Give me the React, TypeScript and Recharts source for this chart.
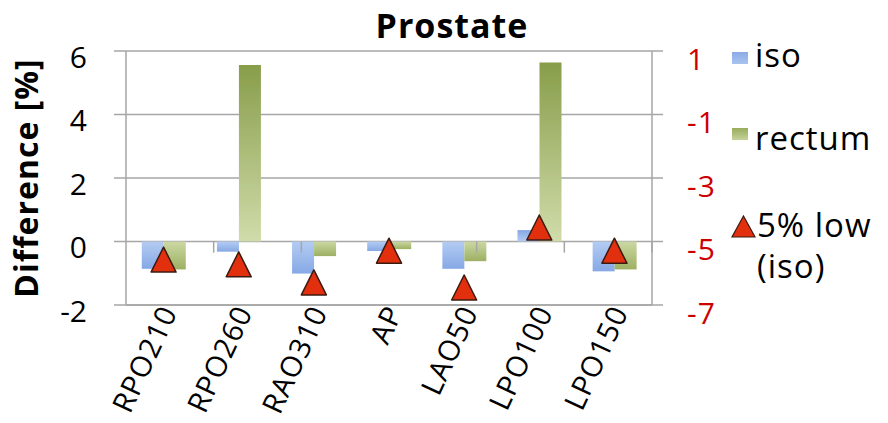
import { ComposedChart, Bar, Line, XAxis, YAxis, CartesianGrid, Cell, ReferenceLine } from 'recharts';

const categories = ['RPO210', 'RPO260', 'RAO310', 'AP', 'LAO50', 'LPO100', 'LPO150'];
const isoValues = [-0.86, -0.32, -1.01, -0.3, -0.86, 0.36, -0.94];
const rectumValues = [-0.88, 5.56, -0.46, -0.24, -0.62, 5.64, -0.88];
const lowIsoValues = [-5.57, -5.72, -6.29, -5.29, -6.45, -4.56, -5.29];

const leftTicks = [-2, 0, 2, 4, 6];
const rightTicks = [-7, -5, -3, -1, 1];

const FONT = "'Open Sans', sans-serif";
const GRID = '#a6a6a6';
const RED_TEXT = '#cc0000';

const data = categories.map((name, i) => ({
  name,
  iso: isoValues[i],
  rectum: rectumValues[i],
  low: lowIsoValues[i],
}));

// category boundaries, used for the small tick marks hanging off the zero line
const boundaries = categories.slice(1).map((_c, i) => i + 1);

function LeftTick({ x, y, payload }: any) {
  return (
    <text x={x} y={y} dy={5} textAnchor="end" dominantBaseline="central" fontFamily={FONT} fontSize={30} fill="#000">
      {payload.value}
    </text>
  );
}

function RightTick({ x, y, payload }: any) {
  return (
    <text x={x} y={y} dy={7} textAnchor="start" dominantBaseline="central" fontFamily={FONT} fontSize={30} fill={RED_TEXT} letterSpacing={1}>
      {payload.value}
    </text>
  );
}

function CategoryTick({ x, y, payload }: any) {
  return (
    <g transform={`translate(${x + 4},${y + 2}) rotate(-65)`}>
      <text x={0} y={0} textAnchor="end" dominantBaseline="central" fontFamily={FONT} fontSize={29} fill="#000" letterSpacing={1}>
        {payload.value}
      </text>
    </g>
  );
}

function Triangle({ cx, cy, index }: any) {
  if (cx == null || cy == null) return <g key={`t-${index}`} />;
  const h = 12.5;
  return (
    <polygon
      key={`t-${index}`}
      points={`${cx},${cy - h} ${cx + h},${cy + h} ${cx - h},${cy + h}`}
      fill="#e2300e"
      stroke="#3b1a10"
      strokeWidth={1.5}
      strokeLinejoin="round"
    />
  );
}

export default function App() {
  return (
    <div style={{ position: 'absolute', left: 0, top: 0, width: 888, height: 423, background: '#fff' }}>
      <ComposedChart
        width={888}
        height={423}
        data={data}
        margin={{ top: 51, right: 156, bottom: 18, left: 0 }}
        barCategoryGap="21%"
        barGap={0}
      >
        <defs>
          <linearGradient id="isoNeg" x1="0" y1="0" x2="0" y2="1">
            <stop offset="0%" stopColor="#b4ccf3" />
            <stop offset="100%" stopColor="#86a8e5" />
          </linearGradient>
          <linearGradient id="isoPos" x1="0" y1="0" x2="0" y2="1">
            <stop offset="0%" stopColor="#86a8e5" />
            <stop offset="100%" stopColor="#b4ccf3" />
          </linearGradient>
          <linearGradient id="recPos" x1="0" y1="0" x2="0" y2="1">
            <stop offset="0%" stopColor="#889d4a" />
            <stop offset="100%" stopColor="#d0dcaa" />
          </linearGradient>
          <linearGradient id="recNeg" x1="0" y1="0" x2="0" y2="1">
            <stop offset="0%" stopColor="#cbd8a3" />
            <stop offset="100%" stopColor="#9db062" />
          </linearGradient>
        </defs>
        <CartesianGrid vertical={false} stroke={GRID} strokeWidth={1.5} />
        <XAxis
          dataKey="name"
          axisLine={{ stroke: GRID, strokeWidth: 1.5 }}
          tickLine={false}
          tickSize={0}
          tickMargin={0}
          height={100}
          interval={0}
          tick={<CategoryTick />}
        />
        <XAxis xAxisId="num" type="number" domain={[0, categories.length]} hide />
        <YAxis
          domain={[-2, 6]}
          ticks={leftTicks}
          width={126}
          tickSize={12}
          tickMargin={27}
          axisLine={{ stroke: GRID, strokeWidth: 1.5 }}
          tickLine={{ stroke: GRID, strokeWidth: 1.5 }}
          tick={<LeftTick />}
          interval={0}
        />
        <YAxis
          yAxisId="right"
          orientation="right"
          domain={[-7, 1]}
          ticks={rightTicks}
          width={80}
          tickSize={11}
          tickMargin={24}
          axisLine={{ stroke: GRID, strokeWidth: 1.5 }}
          tickLine={{ stroke: GRID, strokeWidth: 1.5 }}
          tick={<RightTick />}
          interval={0}
        />
        {boundaries.map((b) => (
          <ReferenceLine
            key={`b-${b}`}
            xAxisId="num"
            segment={[{ x: b, y: 0 }, { x: b, y: -0.35 }]}
            stroke={GRID}
            strokeWidth={1.5}
          />
        ))}
        <Bar dataKey="iso" isAnimationActive={false}>
          {data.map((d, i) => (
            <Cell key={`iso-${i}`} fill={d.iso < 0 ? 'url(#isoNeg)' : 'url(#isoPos)'} />
          ))}
        </Bar>
        <Bar dataKey="rectum" isAnimationActive={false}>
          {data.map((d, i) => (
            <Cell key={`rec-${i}`} fill={d.rectum < 0 ? 'url(#recNeg)' : 'url(#recPos)'} />
          ))}
        </Bar>
        <Line
          yAxisId="right"
          dataKey="low"
          stroke="none"
          dot={(p: any) => <Triangle {...p} />}
          activeDot={false}
          isAnimationActive={false}
        />
      </ComposedChart>

      <svg width={888} height={423} style={{ position: 'absolute', left: 0, top: 0, pointerEvents: 'none' }}>
        <text x={452} y={38} textAnchor="middle" fontFamily={FONT} fontWeight="bold" fontSize={34} letterSpacing={1}>
          Prostate
        </text>
        <text
          x={25}
          y={178}
          transform="rotate(-90 25 178)"
          textAnchor="middle"
          dominantBaseline="central"
          fontFamily={FONT}
          fontWeight="bold"
          fontSize={32}
          letterSpacing={1}
        >
          Difference [%]
        </text>

        <rect x={732} y={52} width={16} height={12} fill="url(#legIso)" />
        <text x={755} y={67} fontFamily={FONT} fontSize={33} letterSpacing={1}>iso</text>

        <rect x={732} y={128} width={16} height={12} fill="url(#legRec)" />
        <text x={755} y={150} fontFamily={FONT} fontSize={33} letterSpacing={1}>rectum</text>

        <polygon points="743.5,216 755,237 732,237" fill="#e2300e" stroke="#3b1a10" strokeWidth={1.2} />
        <text x={757} y={237} fontFamily={FONT} fontSize={33} letterSpacing={1}>5% low</text>
        <text x={757} y={278} fontFamily={FONT} fontSize={33} letterSpacing={1}>(iso)</text>

        <defs>
          <linearGradient id="legIso" x1="0" y1="0" x2="0" y2="1">
            <stop offset="0%" stopColor="#8aabe6" />
            <stop offset="100%" stopColor="#a9c3ef" />
          </linearGradient>
          <linearGradient id="legRec" x1="0" y1="0" x2="0" y2="1">
            <stop offset="0%" stopColor="#98ac5c" />
            <stop offset="100%" stopColor="#c4d29a" />
          </linearGradient>
        </defs>
      </svg>
    </div>
  );
}
